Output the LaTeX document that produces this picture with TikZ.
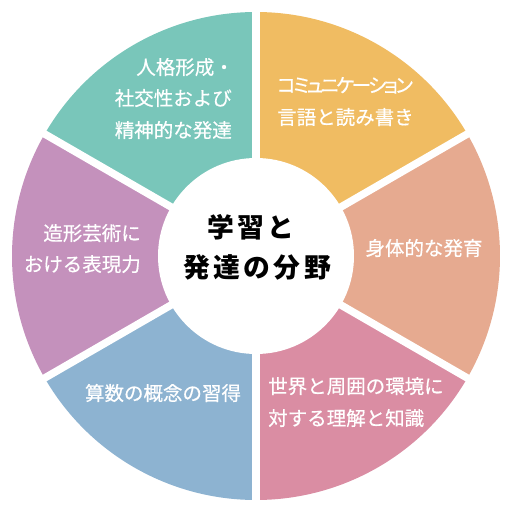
\documentclass[tikz,border=0pt]{standalone}
\usepackage{fontspec}
\newfontfamily\jp[FakeBold=0.5]{Noto Sans CJK JP}
\newfontfamily\jpk[RawFeature=+palt, LetterSpace=-13, FakeBold=0.5]{Noto Sans CJK JP}
\newfontfamily\jpc[LetterSpace=13]{Noto Sans CJK JP}
\definecolor{cteal}{HTML}{79C6BA}
\definecolor{cyellow}{HTML}{F0BC62}
\definecolor{csalmon}{HTML}{E6AA90}
\definecolor{cpink}{HTML}{DA8DA3}
\definecolor{cblue}{HTML}{8DB3D1}
\definecolor{cpurple}{HTML}{C491BC}
\tikzset{
  lbl/.style={text=white, inner sep=0pt, font=\jp\fontsize{19.5}{19.5}\selectfont, text height=17.2pt, text depth=2.3pt},
  ctr/.style={text=black, inner sep=0pt, font=\jpc\bfseries\fontsize{26.8}{26.8}\selectfont, text height=23.5pt, text depth=3.2pt},
  gap/.style={white, line width=7.5pt}
}
\begin{document}
\begin{tikzpicture}[x=1pt,y=1pt]
\useasboundingbox (-256,-256) rectangle (256,256);
\fill[white] (-256,-256) rectangle (256,256);
\def\R{244}
\fill[cyellow] (0,0) -- (30:\R) arc[start angle=30, end angle=90, radius=\R] -- cycle;
\fill[csalmon] (0,0) -- (-30:\R) arc[start angle=-30, end angle=30, radius=\R] -- cycle;
\fill[cpink] (0,0) -- (-90:\R) arc[start angle=-90, end angle=-30, radius=\R] -- cycle;
\fill[cblue] (0,0) -- (-150:\R) arc[start angle=-150, end angle=-90, radius=\R] -- cycle;
\fill[cpurple] (0,0) -- (150:\R) arc[start angle=150, end angle=210, radius=\R] -- cycle;
\fill[cteal] (0,0) -- (90:\R) arc[start angle=90, end angle=150, radius=\R] -- cycle;
\foreach \a in {30,90,150,210,270,330} \draw[gap] (0,0) -- (\a:250);
\fill[white] (0,0) circle (98);
% center
\node[ctr] (c1) at (-5,29) {学習と};
\node[ctr] (c2) at (1,-11) {発達の分野};
% teal
\node[lbl, anchor=east] (t1) at (-22,189) {人格形成・};
\node[lbl, anchor=east] (t2) at (-24,158) {社交性および};
\node[lbl, anchor=east] (t3) at (-24,126) {精神的な発達};
% yellow
\node[lbl, anchor=west, font=\jpk\fontsize{19.5}{19.5}\selectfont] (y1) at (21,171) {コミュニケーション};
\node[lbl, anchor=west] (y2) at (21,139) {言語と読み書き};
% salmon
\node[lbl] (s1) at (168,8) {身体的な発育};
% pink
\node[lbl, anchor=west] (p1) at (12,-130) {世界と周囲の環境に};
\node[lbl, anchor=west] (p2) at (12,-162) {対する理解と知識};
% blue
\node[lbl] (b1) at (-93,-137) {算数の概念の習得};
% purple
\node[lbl, anchor=east] (u1) at (-115,23) {造形芸術に};
\node[lbl, anchor=east] (u2) at (-115,-8) {おける表現力};
\end{tikzpicture}
\end{document}
